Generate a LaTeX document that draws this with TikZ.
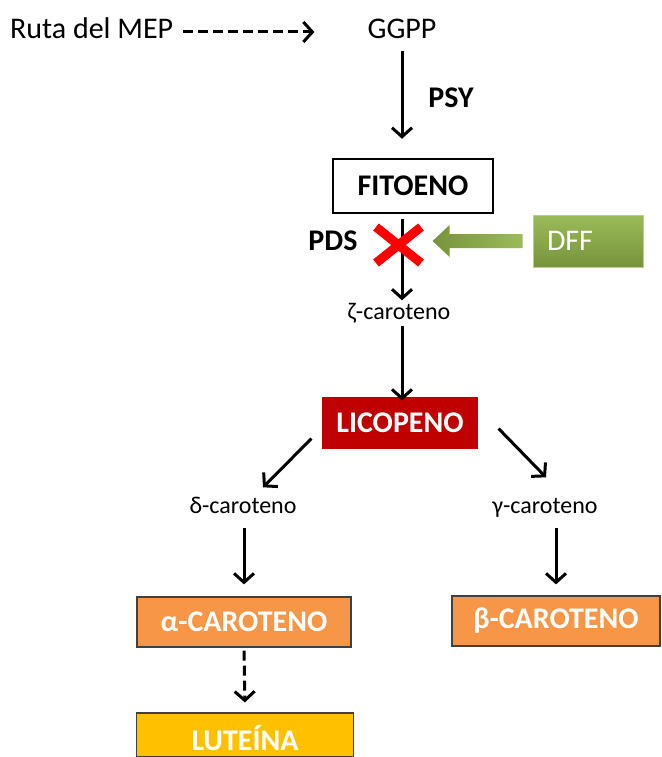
\documentclass[tikz,border=0pt]{standalone}
\usepackage{fontspec}
\setmainfont{Carlito}
\usepackage{tikz}
\usetikzlibrary{calc, positioning, arrows.meta}
\definecolor{LycoRed}{RGB}{192,0,0}
\definecolor{CaroOrange}{RGB}{247,150,70}
\definecolor{LuteinGold}{RGB}{255,192,0}
\definecolor{DffLight}{RGB}{155,187,89}
\definecolor{DffDark}{RGB}{119,147,60}
\definecolor{boxgrey}{RGB}{64,64,64}

\begin{document}
\begin{tikzpicture}[
  x=1pt, y=-1pt,
  font=\fontsize{30}{36}\selectfont,
  big/.style={inner sep=0pt, text height=20pt, text depth=0pt},
  small/.style={inner sep=0pt, font=\fontsize{24}{28}\selectfont, text height=17pt, text depth=6pt},
  flow/.style={line width=3pt, -{Straight Barb[length=9pt,width=20pt]}},
  dashflow/.style={flow, dash pattern=on 10pt off 5pt},
  pool/.style={draw=boxgrey, line width=1.2pt, text=white, font=\fontsize{30}{36}\selectfont\bfseries, minimum height=50pt, inner sep=0pt},
]
\useasboundingbox (0,0) rectangle (661,757);
\clip (0,0) rectangle (661,757);

% Top: MEP route and GGPP
\node[big, anchor=west] (mep) at (10,29) {Ruta del MEP};
\node[big] (ggpp) at (402,29) {GGPP};
\draw[dashflow, shorten <=10pt, shorten >=53pt] ($(mep.east)+(0,3)$) -- ($(ggpp.west)+(0,3)$);

% PSY step
\node[big, font=\fontsize{30}{36}\selectfont\bfseries] (psy) at (451,97) {PSY};
\node[draw, line width=2.5pt, minimum width=160pt, minimum height=54pt, inner sep=0pt,
      font=\fontsize{30}{36}\selectfont\bfseries] (fitoeno) at (413,186) {FITOENO};
\draw[flow, shorten <=12pt, shorten >=19pt] (ggpp.south) -- (ggpp.south |- fitoeno.north);

% PDS step, blocked by DFF
\node[big, font=\fontsize{30}{36}\selectfont\bfseries] (pds) at (333,240) {PDS};
\node[small] (zeta) at (399,314) {ζ-caroteno};
\draw[flow, shorten <=5pt, shorten >=2pt] (fitoeno.south -| ggpp) -- (zeta.north -| ggpp);
\coordinate (block) at (398,245);
\draw[red, line width=9pt] ($(block)+(-22,-18)$) -- ($(block)+(23,18)$)
                           ($(block)+(-22,18)$) -- ($(block)+(23,-18)$);
\node[top color=DffLight, bottom color=DffDark, draw=DffLight!70!white, line width=0.8pt,
      text=white, minimum height=52pt, text width=82pt, inner xsep=14pt, align=left] (dff) at (588,241) {DFF};
\shade[left color=DffDark, right color=DffLight] ($(dff.west)+(-10,-7)$) -- ++(-73,0) -- ++(0,-9)
  -- ++(-17,16) -- ++(17,16) -- ++(0,-9) -- ++(73,0) -- cycle;

% Lycopene
\node[pool, draw=none, fill=LycoRed, minimum width=156pt, minimum height=52pt] (licopeno) at (400,423) {LICOPENO};
\draw[flow, shorten >=-4pt] (zeta.south -| ggpp) -- (licopeno.north -| ggpp);

% Branches
\node[small] (delta) at (243,508) {δ-caroteno};
\node[small] (gamma) at (545,508) {γ-caroteno};
\draw[flow] ($(licopeno.south west)+(-10,-11)$) -- ($(delta.north)+(20,-9)$);
\draw[flow] ($(licopeno.south east)+(20,-21)$) -- ($(gamma.north)+(1,-19)$);

\node[pool, fill=CaroOrange, minimum width=214pt] (alpha) at (244,622) {α-CAROTENO};
\node[pool, fill=CaroOrange, minimum width=208pt] (beta) at (556,621) {β-CAROTENO};
\draw[flow, shorten <=8pt, shorten >=12pt] (delta.south -| alpha) -- (alpha.north);
\draw[flow, shorten <=8pt, shorten >=11pt] (gamma.south -| beta) -- (beta.north);

% Lutein (box runs to the lower edge)
\node[pool, fill=LuteinGold, minimum width=217pt, minimum height=44pt, text height=30pt, text depth=0pt] (luteina) at (245,735) {LUTEÍNA};
\draw[dashflow, shorten <=3pt, shorten >=10pt] (alpha.south) -- (luteina.north);

\end{tikzpicture}
\end{document}
